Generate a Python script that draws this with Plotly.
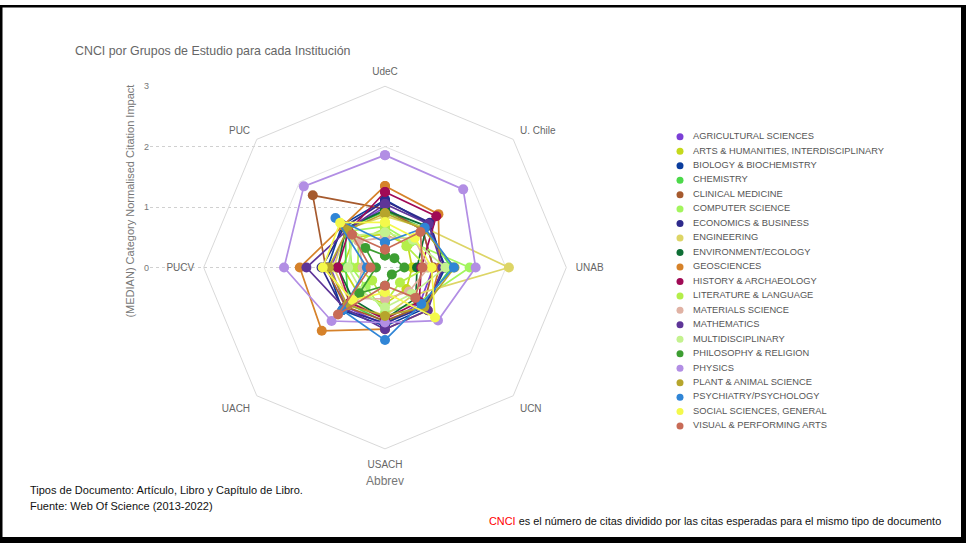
import plotly.graph_objects as go

W, H = 966, 543

INSTITUTIONS = ["UdeC", "U. Chile", "UNAB", "UCN", "USACH", "UACH", "PUCV", "PUC"]

CATEGORIES = [
    "AGRICULTURAL SCIENCES",
    "ARTS & HUMANITIES, INTERDISCIPLINARY",
    "BIOLOGY & BIOCHEMISTRY",
    "CHEMISTRY",
    "CLINICAL MEDICINE",
    "COMPUTER SCIENCE",
    "ECONOMICS & BUSINESS",
    "ENGINEERING",
    "ENVIRONMENT/ECOLOGY",
    "GEOSCIENCES",
    "HISTORY & ARCHAEOLOGY",
    "LITERATURE & LANGUAGE",
    "MATERIALS SCIENCE",
    "MATHEMATICS",
    "MULTIDISCIPLINARY",
    "PHILOSOPHY & RELIGION",
    "PHYSICS",
    "PLANT & ANIMAL SCIENCE",
    "PSYCHIATRY/PSYCHOLOGY",
    "SOCIAL SCIENCES, GENERAL",
    "VISUAL & PERFORMING ARTS",
]

COLORS = [
    "#7B3FD6", "#C5D91C", "#0A3D9E", "#4CD94A", "#A65A2E", "#A3F55E", "#2E2A8C",
    "#DDD566", "#0E6E35", "#D6822A", "#A00A55", "#B4EE4A", "#E0B2A4", "#5E3598",
    "#C4F28F", "#3D9E32", "#B28EE4", "#B6A52C", "#3085D6", "#F4F94B", "#C86B57",
]

#                         UdeC  UChile UNAB  UCN   USACH UACH  PUCV  PUC
AGRICULTURAL_SCIENCES = [1.00, 0.88, 0.80, 0.82, 0.95, 0.92, 0.90, 0.88]
ARTS_HUMANITIES       = [0.55, 0.53, 0.45, 0.50, 0.60, 0.62, 0.70, 0.72]
BIOLOGY_BIOCHEMISTRY  = [1.12, 1.02, 1.00, 0.95, 0.97, 1.00, 0.95, 1.00]
CHEMISTRY             = [0.93, 0.92, 1.10, 0.88, 0.90, 0.85, 0.65, 0.92]
CLINICAL_MEDICINE     = [0.97, 0.88, 0.80, 0.90, 0.88, 0.92, 0.98, 1.69]
COMPUTER_SCIENCE      = [0.68, 0.60, 1.40, 0.80, 0.75, 0.45, 0.55, 0.85]
ECONOMICS_BUSINESS    = [1.10, 1.05, 0.98, 0.92, 0.92, 0.98, 1.05, 0.95]
ENGINEERING           = [0.85, 0.93, 2.05, 0.65, 0.80, 0.82, 0.85, 0.90]
ENVIRONMENT_ECOLOGY   = [0.95, 0.97, 0.53, 0.72, 0.85, 0.75, 0.78, 0.92]
GEOSCIENCES           = [1.35, 1.25, 0.90, 1.00, 1.02, 1.48, 1.41, 0.98]
HISTORY_ARCHAEOLOGY   = [1.25, 1.20, 0.60, 0.80, 0.85, 0.82, 0.78, 0.85]
LITERATURE_LANGUAGE   = [0.65, 0.50, 0.70, 0.35, 0.58, 0.30, 0.45, 0.62]
MATERIALS_SCIENCE     = [0.50, 0.68, 0.72, 0.56, 0.52, 0.72, 0.37, 0.62]
MATHEMATICS           = [1.05, 1.02, 0.95, 1.00, 1.02, 0.95, 1.30, 0.88]
MULTIDISCIPLINARY     = [0.58, 0.65, 1.00, 0.62, 0.66, 0.55, 0.61, 0.75]
PHILOSOPHY_RELIGION   = [0.20, 0.22, 0.32, 0.16, 0.30, 0.60, 0.15, 0.46]
PHYSICS               = [1.86, 1.83, 1.50, 1.24, 0.91, 1.25, 1.67, 1.90]
PLANT_ANIMAL_SCIENCE  = [0.90, 0.90, 1.15, 0.92, 0.80, 0.88, 0.93, 0.88]
PSYCHIATRY_PSYCHOLOGY = [0.42, 0.93, 1.14, 0.85, 1.20, 1.00, 0.30, 1.16]
SOCIAL_SCIENCES       = [0.75, 0.70, 0.77, 1.17, 0.41, 0.76, 1.03, 1.05]
VISUAL_PERFORMING     = [0.30, 0.83, 0.62, 0.71, 0.30, 1.10, 0.24, 0.77]

SERIES = [
    AGRICULTURAL_SCIENCES, ARTS_HUMANITIES, BIOLOGY_BIOCHEMISTRY, CHEMISTRY,
    CLINICAL_MEDICINE, COMPUTER_SCIENCE, ECONOMICS_BUSINESS, ENGINEERING,
    ENVIRONMENT_ECOLOGY, GEOSCIENCES, HISTORY_ARCHAEOLOGY, LITERATURE_LANGUAGE,
    MATERIALS_SCIENCE, MATHEMATICS, MULTIDISCIPLINARY, PHILOSOPHY_RELIGION,
    PHYSICS, PLANT_ANIMAL_SCIENCE, PSYCHIATRY_PSYCHOLOGY, SOCIAL_SCIENCES,
    VISUAL_PERFORMING,
]

Y_TICKS = [0, 1, 2, 3]
R_MAX = 3

FONT = "Liberation Sans, Arial, sans-serif"


def fx(p):
    return p / W


def fy(p):
    return 1 - p / H


CX, CY, R = 385, 265, 183

fig = go.Figure()

for name, vals, col in zip(CATEGORIES, SERIES, COLORS):
    fig.add_trace(go.Scatterpolar(
        r=vals + vals[:1],
        theta=INSTITUTIONS + INSTITUTIONS[:1],
        mode="lines+markers",
        name=name,
        line=dict(color=col, width=1.7),
        marker=dict(color=col, size=10),
        showlegend=False,
        subplot="polar",
    ))

# left value axis (no marks)
fig.add_trace(go.Scatter(x=[None], y=[None], xaxis="x", yaxis="y",
                         showlegend=False, hoverinfo="skip"))

# compact legend
fig.add_trace(go.Scatter(
    x=[0] * len(CATEGORIES), y=list(range(len(CATEGORIES))),
    mode="markers+text", text=["\u00a0\u00a0\u00a0" + c for c in CATEGORIES],
    textposition="middle right",
    marker=dict(color=COLORS, size=7),
    textfont=dict(family=FONT, size=9.3, color="#555555"),
    xaxis="x2", yaxis="y2", showlegend=False, hoverinfo="skip",
    cliponaxis=False,
))

n = len(CATEGORIES)
step = 14.6
leg_top = 133 - step / 2
leg_bot = leg_top + step * n

shapes = [
    dict(type="rect", xref="paper", yref="paper", x0=0, x1=fx(2.5), y0=0, y1=1,
         fillcolor="black", line=dict(width=0), layer="above"),
    dict(type="rect", xref="paper", yref="paper", x0=0, x1=1, y0=fy(2.5), y1=1,
         fillcolor="black", line=dict(width=0), layer="above"),
    dict(type="rect", xref="paper", yref="paper", x0=fx(961), x1=1, y0=0, y1=1,
         fillcolor="black", line=dict(width=0), layer="above"),
    dict(type="rect", xref="paper", yref="paper", x0=0, x1=1, y0=0, y1=fy(537),
         fillcolor="black", line=dict(width=0), layer="above"),
]

annotations = [
    dict(text="CNCI por Grupos de Estudio para cada Institución", x=fx(73), y=fy(46),
         xref="paper", yref="paper", xanchor="left", yanchor="middle", showarrow=False,
         font=dict(family=FONT, size=12.4, color="#666666")),
    dict(text="Abbrev", x=fx(CX), y=fy(480), xref="paper", yref="paper",
         xanchor="center", yanchor="middle", showarrow=False,
         font=dict(family=FONT, size=12, color="#777777")),
    dict(text="Tipos de Documento: Artículo, Libro y Capítulo de Libro.", x=fx(28), y=fy(490),
         xref="paper", yref="paper", xanchor="left", yanchor="middle", showarrow=False,
         font=dict(family=FONT, size=11, color="#111111")),
    dict(text="Fuente: Web Of Science (2013-2022)", x=fx(28), y=fy(506),
         xref="paper", yref="paper", xanchor="left", yanchor="middle", showarrow=False,
         font=dict(family=FONT, size=11, color="#111111")),
    dict(text="<span style='color:#FF0000'>CNCI</span> es el número de citas dividido por las citas esperadas para el mismo tipo de documento",
         x=fx(943), y=fy(521), xref="paper", yref="paper", xanchor="right", yanchor="middle",
         showarrow=False, font=dict(family=FONT, size=10.9, color="#111111")),
]

y_low = -0.8
fig.update_layout(
    width=W, height=H,
    margin=dict(l=0, r=0, t=0, b=0),
    paper_bgcolor="white", plot_bgcolor="rgba(0,0,0,0)",
    font=dict(family=FONT, color="#666666"),
    showlegend=False,
    polar=dict(
        domain=dict(x=[fx(CX - R), fx(CX + R)], y=[fy(CY + R), fy(CY - R)]),
        bgcolor="rgba(0,0,0,0)",
        gridshape="linear",
        radialaxis=dict(range=[0, R_MAX], tickvals=[2], showticklabels=False,
                        showline=False, ticks="", gridcolor="#e3e3e3", gridwidth=1),
        angularaxis=dict(rotation=90, direction="clockwise", categoryorder="array",
                         categoryarray=INSTITUTIONS, showgrid=False,
                         ticks="outside", ticklen=7, tickcolor="rgba(0,0,0,0)",
                         linecolor="#d9d9d9", linewidth=1,
                         tickfont=dict(family=FONT, size=10, color="#666666")),
    ),
    xaxis=dict(domain=[fx(150), fx(400)], range=[0, 1], visible=False, fixedrange=True),
    yaxis=dict(domain=[fy(CY - y_low * R / R_MAX), fy(CY - R)], range=[y_low, R_MAX],
               anchor="x", tickvals=Y_TICKS, showgrid=True, griddash="dot",
               gridcolor="#d0d0d0", gridwidth=1, zeroline=False, showline=False, ticks="",
               tickfont=dict(family=FONT, size=9, color="#777777"),
               title=dict(text="(MEDIAN) Category Normalised Citation Impact",
                          font=dict(family=FONT, size=11, color="#777777"), standoff=7)),
    xaxis2=dict(domain=[fx(680), fx(900)], range=[0, 1], visible=False, anchor="y2"),
    yaxis2=dict(domain=[fy(leg_bot), fy(leg_top)], range=[n - 0.5, -0.5], visible=False,
                anchor="x2"),
    shapes=shapes,
    annotations=annotations,
)

fig.write_html("out.html", config={"displayModeBar": False},
               post_script="document.body.style.margin='0px';")
